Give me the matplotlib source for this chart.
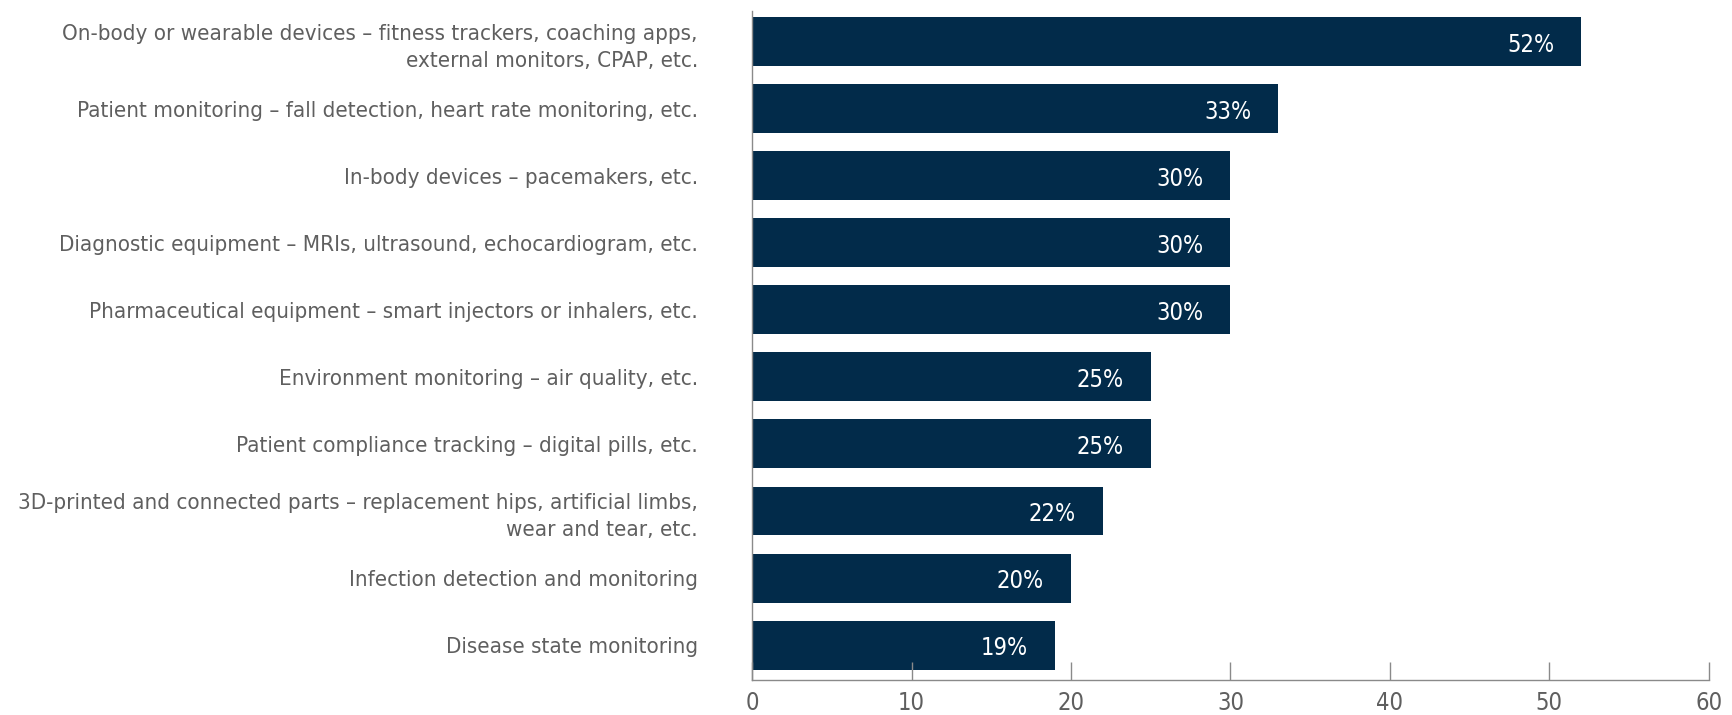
import matplotlib.pyplot as plt

# Chart data
categories = [
    'On-body or wearable devices \u2013 fitness trackers, coaching apps,\nexternal monitors, CPAP, etc.',
    'Patient monitoring \u2013 fall detection, heart rate monitoring, etc.',
    'In-body devices \u2013 pacemakers, etc.',
    'Diagnostic equipment \u2013 MRIs, ultrasound, echocardiogram, etc.',
    'Pharmaceutical equipment \u2013 smart injectors or inhalers, etc.',
    'Environment monitoring \u2013 air quality, etc.',
    'Patient compliance tracking \u2013 digital pills, etc.',
    '3D-printed and connected parts \u2013 replacement hips, artificial limbs,\nwear and tear, etc.',
    'Infection detection and monitoring',
    'Disease state monitoring',
]
values = [52, 33, 30, 30, 30, 25, 25, 22, 20, 19]
x_ticks = [0, 10, 20, 30, 40, 50, 60]

# DejaVu Sans condensed is the narrowest face on hand
plt.rcParams['font.family'] = ['DejaVu Sans']
plt.rcParams['font.stretch'] = 'condensed'

bar_color = '#022b4a'
text_color = '#5f5f5f'
axis_color = '#8a8a8a'

fig = plt.figure(figsize=(17.33, 7.15), dpi=100)
ax = fig.add_axes([0.434, 0.049, 0.552, 0.936])

ypos = list(range(len(values)))
ax.barh(ypos, values, height=0.73, color=bar_color)

for y, v in zip(ypos, values):
    ax.text(v - 1.7, y + 0.05, f'{v}%', ha='right', va='center',
            color='white', fontsize=17, stretch='condensed')

ax.set_yticks(ypos)
ax.set_yticklabels(categories, fontsize=16, color=text_color, linespacing=1.45)
ax.tick_params(axis='y', length=0, pad=39)
ax.set_ylim(9.52, -0.46)

ax.set_xlim(0, 60)
ax.set_xticks(x_ticks)
ax.set_xticklabels([str(t) for t in x_ticks], fontsize=17, color=text_color)
ax.tick_params(axis='x', direction='in', length=13, width=1, color=axis_color, pad=8)

for side in ['top', 'right']:
    ax.spines[side].set_visible(False)
for side in ['left', 'bottom']:
    ax.spines[side].set_color(axis_color)
    ax.spines[side].set_linewidth(1)

for lbl in ax.get_yticklabels():
    lbl.set_horizontalalignment('right')

fig.savefig('out.png', dpi=100)
